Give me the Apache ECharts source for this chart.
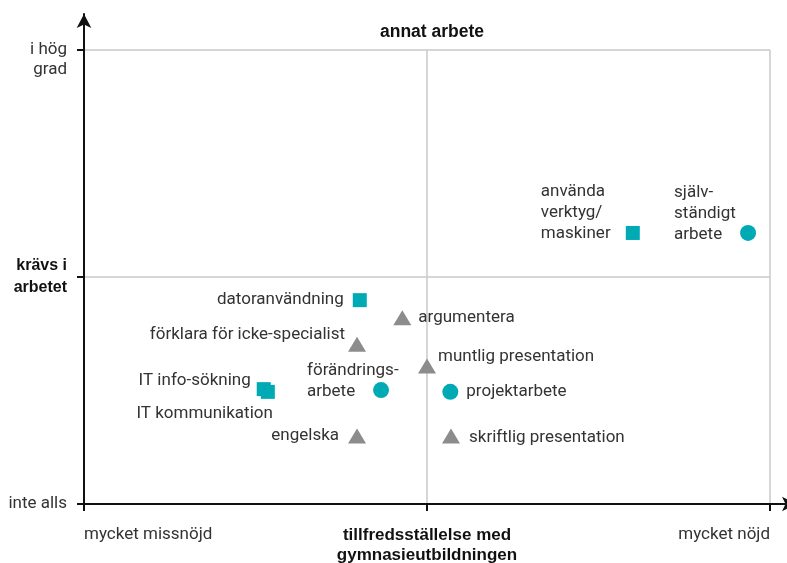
<!DOCTYPE html>
<html>
<head>
<meta charset="utf-8">
<script src="https://cdn.jsdelivr.net/npm/echarts@6/dist/echarts.min.js"></script>
<style>
  html, body { margin: 0; padding: 0; background: #fff; }
  #chart { width: 787px; height: 563px; }
</style>
</head>
<body>
<div id="chart"></div>
<script>
// tick labels
const xTickLabels = ['mycket missnöjd', 'tillfredsställelse med\ngymnasieutbildningen', 'mycket nöjd']
const yTickLabels = ['inte alls', 'krävs i\narbetet', 'i hög\ngrad']

// squares (teal)
const squareNames = ['använda\nverktyg/\nmaskiner', 'datoranvändning', 'IT info-sökning', 'IT kommunikation']
const squareX = [8.0, 4.02, 2.62, 2.68]
const squareY = [5.97, 4.49, 2.53, 2.47]

// circles (teal)
const circleNames = ['själv-\nständigt\narbete', 'förändrings-\narbete', 'projektarbete']
const circleX = [9.68, 4.33, 5.34]
const circleY = [5.97, 2.51, 2.47]

// triangles (grey)
const triangleNames = ['argumentera', 'förklara för icke-specialist', 'muntlig presentation', 'engelska', 'skriftlig presentation']
const triangleX = [4.64, 3.98, 5.0, 3.98, 5.35]
const triangleY = [4.10, 3.52, 3.04, 1.50, 1.50]

const TEAL = '#00aab4'
const GREY = '#8c8c8c'
const TEXT = '#333'
const FONT = 'Roboto, "Liberation Sans", sans-serif'
const BOLD_FONT = '"Liberation Sans", Arial, sans-serif'

// where each label sits relative to its marker
const labelPlacement = {
  'använda\nverktyg/\nmaskiner': { position: [-85, 18], align: 'left', verticalAlign: 'bottom' },
  'datoranvändning': { position: 'left', distance: 9 },
  'IT info-sökning': { position: 'left', distance: 6, offset: [0, -8] },
  'IT kommunikation': { position: 'left', distance: 9, offset: [21, 22] },
  'själv-\nständigt\narbete': { position: [-66, 20], align: 'left', verticalAlign: 'bottom' },
  'förändrings-\narbete': { position: [-66, 20], align: 'left', verticalAlign: 'bottom' },
  'projektarbete': { position: 'right', distance: 8 },
  'argumentera': { position: 'right', distance: 7 },
  'förklara för icke-specialist': { position: 'left', distance: 3, offset: [0, -9] },
  'muntlig presentation': { position: 'right', distance: 2, offset: [0, -9] },
  'engelska': { position: 'left', distance: 9 },
  'skriftlig presentation': { position: 'right', distance: 9, offset: [0, 2] }
}

const buildData = (names, xs, ys) => names.map((n, i) => ({
  name: n,
  value: [xs[i], ys[i]],
  label: Object.assign({ show: true, formatter: '{b}' }, labelPlacement[n])
}))

const labelBase = { color: TEXT, fontSize: 17, fontFamily: FONT, lineHeight: 21 }

const chart = echarts.init(document.getElementById('chart'))

const option = {
  animation: false,
  backgroundColor: '#fff',
  title: {
    text: 'annat arbete',
    left: 427,
    top: 18,
    textAlign: 'center',
    textStyle: { fontSize: 17.5, fontWeight: 'bold', color: '#111', fontFamily: BOLD_FONT }
  },
  grid: [
    { left: 84, right: 17, top: 50, bottom: 59, outerBoundsMode: 'none' },
    { left: 84, right: -9, top: 14, bottom: 59, outerBoundsMode: 'none' }
  ],
  xAxis: [
    {
      gridIndex: 0, type: 'value', min: 0, max: 10, interval: 5,
      axisLine: { show: false },
      axisTick: { show: true, length: 7, lineStyle: { color: '#111', width: 2 } },
      splitLine: { show: true, lineStyle: { color: '#c8c8c8', width: 1.5 } },
      axisLabel: {
        margin: 21,
        color: TEXT, fontSize: 17, fontFamily: FONT, lineHeight: 20,
        verticalAlign: 'top',
        alignMinLabel: 'left', alignMaxLabel: 'right',
        formatter: v => {
          const i = v / 5
          if (i === 1) return xTickLabels[1].split('\n').map(s => '{b|' + s + '}').join('\n')
          return xTickLabels[i]
        },
        rich: { b: { fontWeight: 'bold', color: '#111', fontSize: 17, fontFamily: BOLD_FONT, lineHeight: 20 } }
      }
    },
    {
      gridIndex: 1, type: 'value', min: 0, max: 1, z: 10,
      axisLine: { show: true, symbol: ['none', 'arrow'], symbolSize: [11, 14], lineStyle: { color: '#111', width: 2 } },
      axisTick: { show: false }, axisLabel: { show: false }, splitLine: { show: false }
    }
  ],
  yAxis: [
    {
      gridIndex: 0, type: 'value', min: 0, max: 10, interval: 5,
      axisLine: { show: false },
      axisTick: { show: true, length: 7, lineStyle: { color: '#111', width: 2 } },
      splitLine: { show: true, lineStyle: { color: '#c8c8c8', width: 1.5 } },
      axisLabel: {
        margin: 17,
        color: TEXT, fontSize: 17, fontFamily: FONT, lineHeight: 20,
        formatter: v => {
          const i = v / 5
          if (i === 2) return ' \n' + yTickLabels[2]
          if (i === 1) return yTickLabels[1].split('\n').map(s => '{b|' + s + '}').join('\n')
          return yTickLabels[0]
        },
        rich: { b: { fontWeight: 'bold', color: '#111', fontSize: 16, fontFamily: BOLD_FONT, lineHeight: 22, align: 'right' } }
      }
    },
    {
      gridIndex: 1, type: 'value', min: 0, max: 1, z: 10,
      axisLine: { show: true, symbol: ['none', 'arrow'], symbolSize: [11, 14], lineStyle: { color: '#111', width: 2 } },
      axisTick: { show: false }, axisLabel: { show: false }, splitLine: { show: false }
    }
  ],
  series: [
    {
      name: 'squares', type: 'scatter', xAxisIndex: 0, yAxisIndex: 0,
      symbol: 'rect', symbolSize: 14,
      itemStyle: { color: TEAL, opacity: 1 },
      label: labelBase,
      data: buildData(squareNames, squareX, squareY)
    },
    {
      name: 'circles', type: 'scatter', xAxisIndex: 0, yAxisIndex: 0,
      symbol: 'circle', symbolSize: 16,
      itemStyle: { color: TEAL, opacity: 1 },
      label: labelBase,
      data: buildData(circleNames, circleX, circleY)
    },
    {
      name: 'triangles', type: 'scatter', xAxisIndex: 0, yAxisIndex: 0,
      symbol: 'triangle', symbolSize: [18, 15],
      itemStyle: { color: GREY, opacity: 1 },
      label: labelBase,
      data: buildData(triangleNames, triangleX, triangleY)
    }
  ]
}

chart.setOption(option)
window.addEventListener('resize', () => chart.resize())
</script>
</body>
</html>
